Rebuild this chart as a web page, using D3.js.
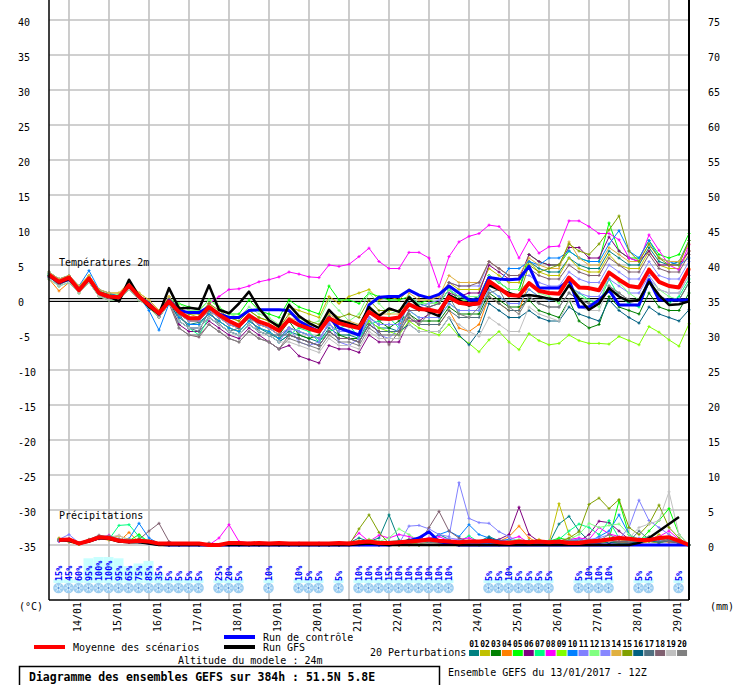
<!DOCTYPE html>
<html><head><meta charset="utf-8">
<script src="https://cdn.jsdelivr.net/npm/d3@7"></script>
<style>
body{margin:0;background:#fff}
svg{display:block}
text{font-family:"DejaVu Sans Mono",monospace;fill:#000}
</style>
</head><body>
<svg id="chart" width="739" height="685"></svg>
<script>
// ---------------- DATA ----------------
// forecast steps (hours after 13/01/2017 12Z)
const hours = d3.range(0, 385, 6);
const dateLabels = ["14/01","15/01","16/01","17/01","18/01","19/01","20/01","21/01","22/01","23/01","24/01","25/01","26/01","27/01","28/01","29/01"];
const dateHours = [12,36,60,84,108,132,156,180,204,228,252,276,300,324,348,372];
const tempTicks = [40,35,30,25,20,15,10,5,0,-5,-10,-15,-20,-25,-30,-35];
const rightTicks = [75,70,65,60,55,50,45,40,35,30,25,20,15,10,5,0];
const memberNames = ["01","02","03","04","05","06","07","08","09","10","11","12","13","14","15","16","17","18","19","20"];
const memberColors = ["#008080","#c0c000","#008000","#ff8000","#00ff00","#800080","#00ff80","#ff00ff","#80ff00","#0080ff","#8080ff","#80ff80","#8888ff","#e0b040","#80a000","#006080","#507080","#806070","#c0c0c0","#808080"];

// 2 m temperature (°C)
const tempMean = [3.6,2.6,3.2,1.4,3.1,1.0,0.5,0.4,2.1,0.5,-0.7,-1.9,-0.2,-1.7,-2.6,-2.6,-1.0,-2.1,-3.0,-3.7,-2.2,-3.1,-3.6,-4.4,-2.8,-3.6,-4.1,-4.5,-2.6,-3.3,-3.7,-4.0,-1.7,-2.6,-2.7,-2.5,-0.6,-1.3,-1.4,-1.7,0.4,-0.4,-0.6,-0.5,2.7,1.7,0.7,0.6,2.4,1.3,1.0,0.9,3.2,1.8,1.7,1.4,3.9,2.9,2.0,1.8,4.3,2.6,2.0,1.8,4.5];
const tempControl = [3.5,2.5,3,1.5,3,1,0.5,0.5,2,0.5,-0.5,-2,0,-1.5,-1.8,-1.8,-1,-2,-2.5,-2.5,-1.5,-1.4,-1.4,-1.4,-1.5,-3.0,-3.8,-4.5,-2.5,-4,-4.5,-5,-0.7,0.4,0.5,0.5,1.4,0.7,0.3,0.8,2.0,1.0,0,0,3.2,3.0,2.9,3.0,4.8,1.7,1.7,1.7,2.9,-1.0,-1.0,0,1.4,-0.7,-0.7,-0.7,2.9,0,0,0,0];
const tempGFS = [3.5,2.5,3,1.5,3,1,0.5,-0.2,2.9,0.5,-1,-2,1.7,-1.2,-1.1,-1.3,2.1,-1.4,-1.9,-0.5,1.2,-1.2,-2.9,-3.8,-0.7,-2.3,-3.3,-4.0,-1.4,-2.9,-3.3,-3.8,-1.0,-2.3,-1.2,-1.7,0.4,-1.0,-1.7,-2.3,0.7,0,-0.8,-0.5,2.1,1.5,1.0,0.5,0.7,0.5,0.2,0,2.1,0.2,-1.4,-0.5,1.7,0.5,-0.2,0,2.6,0.7,-0.7,-0.6,-0.2];
const tempMembers = [
 [3.8,2.0,3.3,1.2,3.4,1.2,0.8,0.6,2.3,0.8,-0.5,-2.4,0.4,-2.5,-3.5,-3.2,-2,-3,-4,-4.5,-3,-4,-4.8,-5.5,-4.5,-5,-5.5,-6,-4,-5,-5,-5.5,-3,-4,-4,-4.5,0.5,-0.5,-1,-0.5,1.5,0.5,0,0.5,3.5,2.5,1.5,1.5,5.5,4.5,4,4,6,5,4.5,4.5,7,6,5,5,7.5,5.5,5,5.5,8.5],
 [4.0,3.0,3.5,2.0,3.5,1.5,1.0,1.0,2.5,1.0,0,-1.5,0.5,-1.5,-2,-2.5,-0.5,-2,-2.5,-3,-1.5,-2.5,-3,-4,-1,-1.5,-2,-2.5,0.5,-0.5,0.5,1,1.5,0,0.5,0,1.5,0.5,0.5,0.5,2.5,1.5,1.5,1.5,4.5,3.5,2.5,2.5,5.5,4,3.5,3.5,6,4.5,4,4,6.5,5,4.5,4.5,7,5,4.5,4.5,7],
 [3.3,2.6,2.8,1.6,2.8,0.9,0.3,0.2,1.8,0.2,-0.8,-2.2,-0.3,-2,-3,-3,-1.5,-2.5,-3.5,-4,-2.5,-3.5,-4,-5,-3,-5,-5.5,-5,-2,-5,-5.5,-5.5,-1.5,-3,-4,-3,-2,-3,-3,-3,-1,-2,-2,-2,1,0,-1,-1,0,-1.5,-2,-2.5,0,-3,-4,-3.5,0.5,-1,-1.5,-2,1,-1,-1.5,-1.5,1],
 [3.0,1.3,2.5,1.0,2.5,0.5,0,0,1.5,0,-1,-2.5,-0.5,-2,-3,-3,-1.5,-2.5,-3.5,-4,-2.5,-3.5,-4,-5,-4,-4.5,-5,-5.5,-3.5,-4.5,-4.5,-5,-2.5,-3.5,-3.5,-3.5,-2.5,-3.5,-3.5,-3.5,-1.5,-4,-4.5,-3.5,0.5,-0.5,-1.5,-1.5,2.5,1.5,1,1,3,2,1.5,1.5,4,3,2,2,4.5,2.5,2,2,4.5],
 [3.6,2.7,3.1,1.8,3.2,1.3,0.7,0.7,2.2,0.7,-0.3,-1.7,0.2,-0.5,-1,-1.5,0,-1,-2,-2,0,-1.5,-2,-2.5,0,-1,-1.5,-2,2,0,0,-0.5,1,0.5,0,0,0.5,-0.5,0,-0.5,1.5,0,0,0,3.5,2.5,1.5,1.5,6.5,5.5,5,5,7,6,5.5,5.5,11,7,6,6,8.5,6.5,6,6.5,9.5],
 [3.4,2.4,2.9,1.4,2.9,0.9,0.4,0.3,1.9,0.3,-0.7,-2.2,-0.2,-3.5,-4.5,-4.5,-3,-4,-5,-5.5,-4,-5,-6,-7,-6.5,-8,-8.5,-9,-6.5,-7,-7,-7.5,-5,-6,-6,-6,-3,-3,-2,-1.5,1,0.5,1,1,5,4,3,3,6.5,5.5,5,5,7.5,7.5,6,6,9,7,6,5.5,7,5,5,5,7],
 [3.0,2.0,2.5,1.0,2.5,0.5,0,0,1.5,0,-1,-2.5,-0.5,-3,-4,-5,-2.5,-3.5,-4.5,-5,-3.5,-4.5,-5,-6,-5,-4,-4.5,-6,-4.5,-4,-3.5,-5.5,-3.5,-3,-2.5,-4,-1.5,-2.5,-2.5,-2.5,-0.5,-1.5,-1.5,-1.5,1.5,0.5,-0.5,-0.5,1.5,0.5,0,0,2,1,0,-0.5,3,0.5,-0.5,-1,2.5,0.5,-0.5,0.5,3],
 [3.5,2.5,3,1.5,3,1,0.5,0.5,2,0.5,-0.5,-2,0,-1.5,-2.5,-2.5,-0.5,0.5,1.5,1.6,2.0,2.6,2.9,3.3,4.0,3.7,3.3,3.2,5.0,4.8,5.1,6.2,7.4,5.5,4.5,4.5,6.8,6.8,6.0,1.9,6.2,8.3,9.1,9.5,10.7,10.5,9.0,6.0,8.6,6.7,7.6,7.7,11.3,11.3,10.5,9.5,9.5,8.6,6.0,5.5,9.3,7.1,5.0,4.3,7.9],
 [3.5,2.5,3,1.5,3,1,0.5,0.5,2,0.5,-1,-2.5,-0.5,-2.5,-3.5,-3.5,-2,-3,-4,-4.5,-3,-4,-4.5,-5.5,-4,-4.5,-5,-5.5,-3.5,-4.5,-4.5,-5,-3,-4,-4.5,-5,-3,-4,-4.5,-5,-3.5,-5.2,-6.2,-7.4,-5.7,-4.5,-6,-7.1,-4.8,-5.8,-6.4,-6.2,-5.0,-5.8,-6.2,-6.2,-6.3,-5.2,-5.8,-6.4,-3.8,-4.6,-5.7,-6.6,-3.4],
 [4.0,3.0,3.5,2.0,4.2,1.5,1.0,0.5,2.5,0.5,-1.5,-4.3,-0.5,-2.5,-3.5,-3.5,-2,-3,-4,-4.5,-3,-4,-4.5,-5.5,-4,-4.5,-5,-5.5,-3.5,-4.5,-4.5,-5,-2.5,-3.5,-3.5,-3.5,0.5,-0.5,-0.5,-0.5,1.5,0.5,0.5,0.5,3.5,2.5,4.5,4.5,5.5,5,6,6,7,6,5.5,5.5,8,9.9,7,6,8.5,6,5.5,5,6],
 [3.2,2.8,2.7,1.3,2.7,1.2,0.6,0.3,1.7,0.4,-0.6,-2.4,-0.3,-3,-4,-4,-2.5,-3.5,-4.5,-5,-3.5,-4.5,-5,-6,-4,-6,-6.5,-6,-3,-6,-6.5,-5.5,-2.5,-5,-5.5,-4,-1.5,-2.5,-2.5,-2.5,-0.5,-1.5,-1.5,-1.5,1.5,0.5,-0.5,-0.5,1.5,0.5,0,0,2,1,0.5,0.5,3,2,1,1,3.5,1.5,1,1,3.5],
 [3.6,2.3,3.2,1.7,3.3,1.1,0.6,0.6,2.2,0.6,-0.4,-1.8,0.2,-0.5,-1.5,-1.5,0,-1,-2,-2.5,-1,-2,-2.5,-3.5,-0.5,-2.5,-3.5,-3,0,-1.5,-3,-2,1,-0.5,-2,-1.5,0.5,-0.5,-0.5,-0.5,1.5,0.5,0.5,0.5,3.5,2.5,1.5,1.5,2.5,1,0.5,-0.5,2.5,0.5,0,-1,4,2.5,1,0,3,1.5,0.5,0,2.5],
 [3.4,2.6,3.0,1.4,3.1,0.9,0.4,0.4,2.0,0.4,-0.6,-2.1,-0.1,-2,-3,-3,-1.5,-2.5,-3.5,-4,-2.5,-3.5,-4,-5,-4,-4.5,-5,-5.5,-3.5,-4.5,-4.5,-5,-2.5,-3.5,-3.5,-3.5,-0.5,-1,-0.5,0,2.5,2,2,2,5.5,4.5,3.5,3.5,3.5,2.5,2,2,4,3,2.5,2.5,5,4,3,3,5.5,3.5,3,3,5.5],
 [4.0,3.0,3.5,2.0,3.5,1.5,1.0,1.0,2.5,1.0,0,-1.5,0.5,-1.5,-2.5,-2.5,-1,-2,-3,-3.5,-2,-3,-3.5,-4.5,-2.5,-3,-3.5,-4,-2,-3,-3,-3.5,-1,-2,-2,-2,1,0,0,0.5,3.5,2.5,2.5,2.5,5.5,4.5,3.5,3.5,6,5,4.5,4.5,8.3,6,5,5,7.5,6.5,5.5,5.5,8,6,5.5,5.5,8],
 [3.5,2.5,3,1.5,3,1,0.5,0.5,2,0.5,-0.5,-2,0,-1,-2,-2,-0.5,-1.5,-2.5,-3,-1.5,-2.5,-3,-4,-2,-2.5,-3,-3.5,-1.5,-2.5,-2,-2.5,0,-1.5,-1.5,-1.5,-0.5,-1.5,-1.5,-1.5,0.5,-0.5,-0.5,-0.5,2.5,1.5,0.5,0.5,5,4,4.5,5,8,7,6.5,8,10,12,7,5.5,8,6,5,5,8.5],
 [3.5,2.5,3,1.5,3,1,0.5,0.5,2,0.5,-0.5,-2,0,-3,-4,-4,-2.5,-3.5,-4.5,-5,-3.5,-4.5,-5,-6,-5,-5.5,-6,-6.5,-4.5,-5.5,-5.5,-6,-3.5,-4.5,-4.5,-4.5,-3.5,-4.5,-4.5,-4.5,-2.5,-5,-6.4,-4.5,-0.5,-1.5,-2.5,-2.5,-1.5,-2.5,-3,-3,-1,-2,-2.5,-3,0,-1.5,-2.5,-3.3,-1,-2,-2.5,-3,-1.4],
 [3.3,2.2,2.9,1.2,2.8,0.8,0.3,0.2,1.9,0.3,-0.8,-2.3,-0.4,-2,-4,-4.5,-1.5,-3.5,-4.5,-4,-2.5,-4.5,-5,-5,-5,-5.5,-6,-6.5,-4.5,-5.5,-5.5,-6,-3.5,-4.5,-4.5,-4.5,-2.5,-3.5,-3.5,-3.5,-1.5,-2.5,-2.5,-2.5,0.5,-0.5,-1.5,-1.5,0.5,-0.5,-1,-1,1,0,-0.5,-0.5,2,1,0,0,2.5,0.5,0,0,2.5],
 [3.3,2.2,2.8,1.2,2.7,0.7,0.1,0.1,1.7,0.2,-0.8,-2.5,-0.5,-4,-5,-5.3,-3.5,-4.5,-5.5,-6,-4.5,-5.5,-6,-7,-5,-5.5,-6,-6.5,-4.5,-5.5,-5.5,-6,-3.5,-4.5,-6.4,-4.5,-1.5,-1.5,-1,-0.5,2.5,2,2,2.5,5.5,4.5,3.5,3.5,4.5,3.5,3,3,5,4,3.5,3.5,6,5,4,4,6.5,4.5,4,4,6.5],
 [3.0,2.0,2.5,1.0,2.5,0.5,0,0,1.5,0,-1,-2.5,-0.5,-3,-4,-4,-2.5,-3.5,-4.5,-5,-3.5,-4.5,-5,-6,-6,-6.5,-7,-7.5,-5.5,-6.5,-6.5,-7,-4.5,-5.5,-5.5,-5.5,-3.5,-4.5,-4.5,-4.5,-2.5,-3.5,-4.5,-5.2,-2.5,-3.5,-4.5,-4.5,-1,-2,-2.5,-3,0,-1,-1.5,-1.5,2,1,0,0,3,1.5,1,1,3.5],
 [3.7,2.6,3.2,1.5,3.2,1.0,0.5,0.4,2.1,0.4,-0.7,-2.2,0.1,-4,-5,-5,-3.5,-4.5,-5.5,-6,-4.5,-5.5,-6,-7,-5.5,-6,-6.5,-7,-5,-6,-6,-6.5,-4,-5,-5,-5,-2,-3.5,-2,-1.5,0.5,-2,-2.5,-1,1,1.5,-1,-2,0.5,-0.5,-1,-1,1,0,-0.5,-0.5,2,1,0,0,2.5,0.5,0,0,2.5]
];

// 6-hourly precipitation (mm), first step has no value
const precipMean = [null,0.7,0.8,0.2,0.6,1.1,1.0,0.6,0.5,0.6,0.5,0.2,0.2,0.2,0.2,0.2,0,0,0.3,0.3,0.2,0.3,0.2,0.3,0.2,0.2,0.2,0.2,0.2,0.3,0.2,0.4,0.5,0.3,0.3,0.4,0.5,0.6,0.8,0.6,0.5,0.4,0.5,0.5,0.6,0.4,0.3,0.5,0.4,0.5,0.4,0.5,0.3,0.3,0.5,0.6,0.8,1.0,0.9,0.7,0.7,1.0,1.1,0.6,0];
const precipControl = [null,0.7,0.8,0.2,0.6,1.0,1.0,0.6,0.5,0.5,0.3,0.1,0,0,0,0,0,0,0,0,0,0,0,0,0,0,0,0,0,0,0,0,0,0,0,0.2,0.6,1.0,1.9,0.5,0.2,0,0,0,0,0,0,0,0,0,0,0,0,0,0,0,0,0,0,0,0,0,0,0,0];
const precipGFS = [null,0.7,0.6,0.2,0.5,1.0,0.9,0.5,0.4,0.4,0.2,0,0,0,0,0,0,0,0,0,0,0,0,0,0,0,0,0,0,0,0,0.1,0.2,0.1,0,0,0,0,0,0,0,0,0,0,0,0,0,0,0,0,0,0,0,0,0,0,0,0,0,0.3,1.0,2.0,3.0,4.0,null];
const precipMembers = [
 [null,0.6,0.9,0.2,0.5,1.2,1.0,0.8,0.7,0.5,0.3,0.1,0,0,0,0,0,0,0,0,0,0,0,0,0,0,0,0,0,0,0.3,1.0,0.5,1.0,4.3,0.7,0.2,0,0.5,1.5,0.8,0.2,0.3,0.5,1.2,0.6,0.3,0.3,0.5,0.5,0.2,3.0,4.1,2.0,0.6,0.3,0.5,0.3,0.2,0.5,0.8,0.4,0.6,0.4,0],
 [null,0.7,0.6,0.1,0.8,1.0,1.3,0.5,0.4,0.8,0.6,0.1,0,0,0,0,0,0,0,0,0,0,0,0,0,0,0,0,0,0.2,0.4,0.6,0.3,0,0,0,0.2,0,0,0,0.3,0,0,0,0.3,0.4,0.6,0.3,0.5,0.8,0.3,5.9,1.5,0.5,0.2,0.3,0.5,0.8,0.4,0.2,0.5,1.5,0.7,0.2,0],
 [null,0.8,0.7,0.3,0.6,1.0,0.9,0.6,0.5,0.7,0.4,0.2,0,0,0,0,0,0,0,0,0,0,0,0,0.2,0,0,0,0,0,0.2,0.5,0.2,0,0.2,0.4,0.8,0.2,0.5,0.3,0.2,0,0.2,0.1,0.3,0,0.2,0.4,0.3,0.4,0.2,0.6,0.3,0.2,0.5,0.8,0.3,0.5,0.2,0.8,0.5,0.3,0.7,0.5,0],
 [null,1.0,0.4,0.1,0.5,0.9,0.7,0.5,1.8,0.4,0.5,0.2,0,0,0,0,0,0,0,0,0,0,0,0,0,0,0,0,0.2,0,0,0.5,0.3,0.2,0.3,0,0,0.2,0.6,0.4,0.3,0.5,0.2,0.3,0.6,0.5,1.2,2.7,1.0,0.3,0.2,0.4,0.5,0.2,0.3,0.2,0.6,0.4,0.3,0.2,0.5,0.6,0.4,0.3,0],
 [null,0.9,0.6,0.3,0.7,1.2,1.0,0.5,0.6,1.5,0.4,0.1,0,0,0,0,0,0,0,0,0,0,0,0,0,0,0,0,0,0,0,0.2,0.4,0.2,0,0.3,0.5,0.2,0.4,0.5,0.6,0.2,0.5,0.3,0.2,0.5,0.2,0.4,0.6,0.2,0.5,1.0,0.7,0.3,0.4,0.5,0.8,6.3,1.5,0.5,2.0,3.5,5.2,1.5,0],
 [null,0.6,0.8,0.2,0.6,1.0,1.1,0.6,0.4,0.5,0.3,0.2,0,0,0,0,0,0,0,0,0,0,0,0,0,0,0,0,0,0,0,0.3,0.2,0,0,0,0.3,0,0.2,0.4,0.2,0,0.3,0.3,0.5,0.8,1.5,5.4,1.5,0.5,0.3,0.6,0.8,0.5,1.5,3.4,3.2,2.0,0.8,0.6,1.0,0.5,0.6,0.3,0],
 [null,0.8,0.7,0.2,0.5,1.0,0.8,2.8,2.9,1.2,0.6,0.2,0,0,0,0,0,0,0,0,0,0,0,0,0,0,0,0,0,0,0,0.2,0.5,0.3,0.5,0.6,0.3,1.0,0.5,0.3,0.6,0.5,1.3,0.4,0.3,0.6,0.5,0.3,0.6,0.4,0.6,0.8,2.0,3.0,2.5,1.5,3.5,1.0,0.5,0.8,1.2,0.6,1.0,0.5,0],
 [null,0.5,0.9,0.3,0.6,1.0,1.4,0.6,0.4,0.4,0.3,0.2,0,0,0,0,0,1.0,2.9,0.5,0.3,0.3,0,0.3,0,0.3,0,0.3,0,0,0.3,1.7,0.5,1.4,1.0,1.5,1.2,0.8,1.0,1.2,0.6,0.8,1.0,0.5,0.6,0.4,0.8,1.2,0.3,0.2,0.4,0.5,0.8,1.0,0.8,2.5,1.6,1.2,0.6,0.5,0.8,1.2,2.0,0.8,0],
 [null,0.8,0.7,0.1,0.6,1.1,1.0,0.7,0.5,0.6,0.3,0.1,0,0,0,0,0,0,0,0,0,0,0,0,0,0,0,0,0,0,0,0.2,0.8,0.5,0.2,0.3,0.1,0,0.2,0.3,0.2,0.3,0.2,0,0.2,0.3,0.1,0.2,0.3,0.2,0.3,0.4,0.2,0.3,0.5,0.3,0.4,0.2,0.3,0.4,0.6,0.3,0.8,0.4,0],
 [null,0.6,0.5,0.2,0.6,1.2,1.0,0.7,0.9,3.1,1.0,0.2,0,0,0,0,0,0,0,0,0,0,0,0,0,0,0,0,0,0,0,0,0.3,0.2,0.4,0.5,0.3,0.6,0.8,1.5,2.0,1.2,2.9,1.5,1.0,0.6,0.8,0.5,0.4,0.3,0.5,0.4,0.6,0.8,0.5,1.2,2.0,4.3,1.5,0.8,0.6,0.5,0.8,0.4,0],
 [null,0.8,1.5,0.3,0.7,1.0,0.9,0.6,0.5,0.5,0.3,0.1,0,0,0,0,0,0,0,0,0,0,0,0,0,0,0,0,0,0,0,0.3,0.2,0.5,0.3,0.2,2.7,2.8,2.3,1.5,1.2,8.9,3.8,3.2,3.1,1.9,1.2,0.5,0.3,0.4,0.5,0.3,0.6,0.8,0.5,0.6,0.4,0.8,2.5,6.4,3.5,2.5,1.5,0.6,0],
 [null,0.7,0.6,0.2,0.6,1.1,1.0,0.6,0.5,0.5,0.3,0.1,0,0,0,0,0,0,0,0,0,0,0,0,0,0,0,0,0,0,0,0.3,0.8,0.5,1.0,2.3,1.5,0.6,0.3,0.2,0.5,0.3,0.6,0.2,0.4,0.3,0.6,0.8,0.5,0.3,0.2,0.5,0.8,1.5,3.1,2.5,2.8,3.0,1.5,0.8,0.5,0.7,0.6,0.4,0],
 [null,0.8,0.7,0.3,0.5,1.0,1.2,0.6,0.5,0.4,0.2,0.1,0,0,0,0,0,0,0,0,0,0,0,0,0,0,0,0,0,0,0,0.2,0.3,0.2,0.5,0.3,0.4,0.3,0.5,0.6,1.0,0.8,0.5,0.4,0.3,0.5,0.4,0.3,0.2,0.5,0.4,0.3,0.5,0.6,0.8,1.0,1.5,0.8,0.6,1.0,0.8,0.6,0.5,0.3,0],
 [null,0.9,0.8,0.2,0.6,1.0,1.0,1.3,0.8,0.6,0.3,0.1,0,0,0,0,0,0,0,0,0,0,0,0,0,0,0,0,0,0,0.2,0.4,0.6,0.3,0.2,0.4,0.3,0.2,0.3,0.2,0.4,0.2,0.5,0.3,0.5,0.4,0.6,0.5,0.4,0.3,0.5,0.6,0.4,0.3,0.5,0.4,0.6,0.5,0.8,0.6,0.5,0.4,0.5,0.3,0],
 [null,0.7,0.6,0.2,0.5,0.9,1.0,0.7,0.6,0.9,0.5,0.2,0,0,0,0,0,0,0,0,0,0,0,0,0,0,0,0,0,0,0,2.3,4.3,1.8,0.2,0.3,0.4,0.2,0.3,0.5,0.3,0.2,0.4,0.3,0.5,0.3,0.2,0.4,0.5,0.3,0.4,0.5,1.0,1.9,5.8,6.7,5.2,6.5,2.5,1.5,3.0,5.7,2.5,1.0,0],
 [null,0.7,0.8,0.2,0.6,1.0,0.9,0.6,0.5,0.5,0.3,0.1,0,0,0,0,0,0,0,0,0,0,0,0,0,0,0,0,0,0,0,0.2,0.3,0.2,0.3,0.2,0.3,0.6,0.4,0.3,0.2,0.3,0.2,0.4,1.0,0.5,0.3,0.2,0.3,0.5,0.3,0.2,0.4,0.3,0.5,0.6,0.3,0.5,0.4,0.3,0.6,0.4,0.5,0.3,0],
 [null,0.6,0.7,0.2,0.6,1.0,1.1,0.6,0.5,0.5,0.3,0.1,0,0,0,0,0,0,0,0,0,0,0,0,0,0,0,0,0,0,0,0.2,0.4,0.3,0.2,0.4,0.3,0.5,0.6,0.4,0.3,0.2,0.3,0.5,0.4,0.3,0.5,0.4,0.3,0.3,0.5,0.4,0.6,0.5,0.4,0.3,0.6,0.4,0.5,2.0,0.8,0.5,0.6,0.4,0],
 [null,0.7,0.6,0.3,0.8,1.4,1.2,0.7,0.6,0.8,2.0,3.1,0.5,0,0,0,0.3,0,0,0,0,0,0,0,0,0,0,0,0,0,0,0.2,0.3,0.2,0.3,0.5,0.4,0.3,2.5,4.8,2.0,1.0,0.5,0.3,0.4,0.3,0.5,0.4,0.6,0.5,0.4,0.3,0.5,0.6,0.5,0.8,0.6,0.5,0.4,0.6,1.0,0.8,0.5,0.3,0],
 [null,0.7,0.8,0.2,0.5,1.0,1.1,1.4,0.6,0.5,0.3,0.1,0,0,0,0,0,0,0,0,0,0,0,0,0,0,0,0,0,0,0,0.2,0.2,0.2,0.3,0.2,0.4,0.3,0.2,0.3,0.2,0.3,0.2,0.3,0.2,0.4,0.3,0.2,0.3,0.2,0.4,0.3,0.2,0.5,0.4,0.6,0.5,0.8,1.0,2.5,3.0,3.5,7.6,1.5,0],
 [null,0.8,0.7,0.3,0.6,1.0,1.3,0.9,0.7,0.6,0.4,0.2,0,0,0,0,0,0,0,0,0,0,0,0,0,0,0,0,0,0,0,0.2,0.3,0.3,0.2,0.5,0.3,0.6,0.4,0.3,0.5,0.4,0.3,0.5,0.4,0.3,0.6,0.5,0.4,0.3,0.5,0.4,0.6,0.5,0.8,0.6,1.5,0.8,0.6,0.5,1.2,0.8,1.0,0.5,0]
];

// snow probability row
const snowSteps = [1,2,3,4,5,6,7,8,9,10,11,12,13,14,15,17,18,19,22,25,26,27,29,31,32,33,34,35,36,37,38,39,40,44,45,46,47,48,49,50,53,54,55,56,59,60,63];
const snowPct   = [15,45,60,95,100,100,95,65,75,85,35,5,5,5,5,25,20,5,10,10,5,5,5,10,10,10,15,10,10,10,10,10,10,5,5,10,5,5,5,5,5,10,10,10,5,5,5];
const snowLevel = [15,15,15,95,100,100,95,65,75,85,35,15,15,15,15,15,15,15,15,15,15,15,15,15,15,15,15,15,15,15,15,15,15,15,15,15,15,15,15,15,15,15,15,15,15,15,15];

// ---------------- DRAWING ----------------
const svg = d3.select("#chart");
const L = 49, R = 689, T = 0, B = 600;
const x = d3.scaleLinear().domain([0, 384]).range([L, R]);
const yT = d3.scaleLinear().domain([-35, 40]).range([545, 20]);
const yP = d3.scaleLinear().domain([0, 75]).range([545, 20]);
const barScale = d3.scaleLinear().domain([0, 100]).range([0, 26]);

svg.append("rect").attr("width", 739).attr("height", 685).attr("fill", "#fff");

// grid
const grid = svg.append("g").attr("stroke", "#c0c0c0").attr("stroke-width", 1.6);
tempTicks.forEach(t => grid.append("line").attr("x1", L).attr("x2", R).attr("y1", yT(t)).attr("y2", yT(t)));
dateHours.forEach(h => grid.append("line").attr("x1", x(h)).attr("x2", x(h)).attr("y1", T).attr("y2", B));

// zero line (double)
[-1.5, 1.5].forEach(o => svg.append("line").attr("x1", L).attr("x2", R)
  .attr("y1", yT(0) + o).attr("y2", yT(0) + o).attr("stroke", "#000").attr("stroke-width", 1));

// snow bars, icons, labels
const snowG = svg.append("g");
snowSteps.forEach((s, k) => {
  const cx = x(hours[s]) - 0.5;
  const h = barScale(snowLevel[k]);
  snowG.append("rect").attr("x", cx - 5).attr("y", 583 - h).attr("width", 10).attr("height", h).attr("fill", "#c8ffff");
});
snowSteps.forEach((s, k) => {
  const cx = x(hours[s]) - 0.5, cy = 588;
  snowG.append("circle").attr("cx", cx).attr("cy", cy).attr("r", 5.3).attr("fill", "#9ccdf0");
  [0, 60, 120].forEach(a => {
    const r = a * Math.PI / 180;
    snowG.append("line").attr("x1", cx - 4 * Math.cos(r)).attr("y1", cy - 4 * Math.sin(r))
      .attr("x2", cx + 4 * Math.cos(r)).attr("y2", cy + 4 * Math.sin(r))
      .attr("stroke", "#e6f5ff").attr("stroke-width", 1);
  });
  snowG.append("circle").attr("cx", cx).attr("cy", cy).attr("r", 1).attr("fill", "#4a90d9");
  snowG.append("text").attr("transform", `translate(${cx + 3.4},581) rotate(-90)`)
    .attr("font-size", 8.5).attr("font-weight", "bold").style("fill", "#0000ff").text(snowPct[k] + "%");
});

// series
function drawSeries(vals, yScale, color, width, markers) {
  const line = d3.line().defined(d => d != null).x((d, i) => x(hours[i])).y(d => yScale(d));
  svg.append("path").attr("d", line(vals)).attr("fill", "none").attr("stroke", color)
    .attr("stroke-width", width).attr("stroke-linejoin", "round");
  if (markers) {
    let p = "";
    vals.forEach((v, i) => {
      if (v == null) return;
      const cx = x(hours[i]), cy = yScale(v);
      p += `M${cx - 1.5},${cy}h3M${cx},${cy - 1.5}v3`;
    });
    svg.append("path").attr("d", p).attr("stroke", color).attr("stroke-width", 1).attr("fill", "none");
  }
}
tempMembers.forEach((m, k) => drawSeries(m, yT, memberColors[k], 1, true));
precipMembers.forEach((m, k) => drawSeries(m, yP, memberColors[k], 1, true));
drawSeries(tempControl, yT, "#0000ff", 3, false);
drawSeries(precipControl, yP, "#0000ff", 3, false);
drawSeries(tempGFS, yT, "#000000", 2.5, false);
drawSeries(precipGFS, yP, "#000000", 2.5, false);
drawSeries(tempMean, yT, "#ff0000", 4, false);
drawSeries(precipMean, yP, "#ff0000", 4, false);

// frame
svg.append("line").attr("x1", L).attr("x2", L).attr("y1", T).attr("y2", B).attr("stroke", "#000").attr("stroke-width", 1.5);
svg.append("line").attr("x1", R).attr("x2", R).attr("y1", T).attr("y2", B).attr("stroke", "#000").attr("stroke-width", 2);
svg.append("line").attr("x1", L).attr("x2", R).attr("y1", B).attr("y2", B).attr("stroke", "#000").attr("stroke-width", 1.5);

// axis labels
tempTicks.forEach(t => svg.append("text").attr("x", 18).attr("y", yT(t) + 6).attr("font-size", 10).text(t));
rightTicks.forEach(t => svg.append("text").attr("x", 708).attr("y", yP(t) + 6).attr("font-size", 10).text(t));
dateLabels.forEach((d, k) => svg.append("text")
  .attr("transform", `translate(${x(dateHours[k]) + 11.5},602) rotate(-90)`)
  .attr("text-anchor", "end").attr("font-size", 10).text(d));
svg.append("text").attr("x", 19).attr("y", 610).attr("font-size", 10).text("(°C)");
svg.append("text").attr("x", 710).attr("y", 610).attr("font-size", 10).text("(mm)");
svg.append("text").attr("x", 59).attr("y", 266).attr("font-size", 10).text("Températures 2m");
svg.append("text").attr("x", 59).attr("y", 519).attr("font-size", 10).text("Précipitations");

// legend
svg.append("line").attr("x1", 34).attr("x2", 65).attr("y1", 647).attr("y2", 647).attr("stroke", "#ff0000").attr("stroke-width", 4);
svg.append("text").attr("x", 73).attr("y", 650.5).attr("font-size", 10).text("Moyenne des scénarios");
svg.append("line").attr("x1", 224).attr("x2", 255).attr("y1", 637).attr("y2", 637).attr("stroke", "#0000ff").attr("stroke-width", 4);
svg.append("text").attr("x", 263).attr("y", 640.5).attr("font-size", 10).text("Run de contrôle");
svg.append("line").attr("x1", 224).attr("x2", 255).attr("y1", 647).attr("y2", 647).attr("stroke", "#000").attr("stroke-width", 4);
svg.append("text").attr("x", 263).attr("y", 650.5).attr("font-size", 10).text("Run GFS");
svg.append("text").attr("x", 178).attr("y", 664).attr("font-size", 10).text("Altitude du modele : 24m");
svg.append("text").attr("x", 370).attr("y", 656).attr("font-size", 10).text("20 Perturbations");
memberNames.forEach((n, k) => {
  const sx = 469 + k * 10.95;
  svg.append("text").attr("x", sx + 5).attr("y", 646.5).attr("text-anchor", "middle")
    .attr("font-size", 8).attr("font-weight", "bold").text(n);
  svg.append("rect").attr("x", sx).attr("y", 650).attr("width", 10).attr("height", 6).attr("fill", memberColors[k]);
});
svg.append("rect").attr("x", 19.5).attr("y", 666.5).attr("width", 420).attr("height", 30)
  .attr("fill", "none").attr("stroke", "#000").attr("stroke-width", 1.5);
svg.append("text").attr("x", 29).attr("y", 680.5).attr("font-size", 11.5).attr("font-weight", "bold")
  .text("Diagramme des ensembles GEFS sur 384h : 51.5N 5.8E");
svg.append("text").attr("x", 448).attr("y", 676).attr("font-size", 10).text("Ensemble GEFS du 13/01/2017 - 12Z");
</script>
</body></html>
